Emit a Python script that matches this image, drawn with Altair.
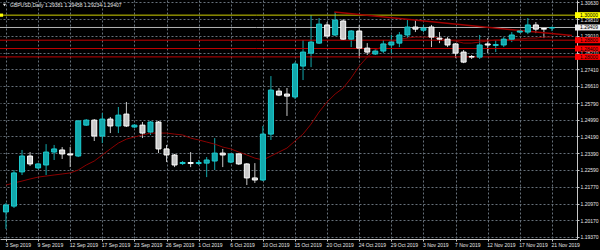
import altair as alt
import pandas as pd
import numpy as np

# ---------------- data ----------------
date_labels = ["3 Sep 2019", "9 Sep 2019", "12 Sep 2019", "17 Sep 2019", "23 Sep 2019",
               "26 Sep 2019", "1 Oct 2019", "6 Oct 2019", "10 Oct 2019", "15 Oct 2019",
               "20 Oct 2019", "24 Oct 2019", "29 Oct 2019", "3 Nov 2019", "7 Nov 2019",
               "12 Nov 2019", "17 Nov 2019", "21 Nov 2019"]
label_step = 4  # one date label every 4 bars

opens = [1.2057, 1.2085, 1.2249, 1.2325, 1.2268, 1.2282, 1.2344, 1.2354, 1.2335, 1.2325,
         1.2473, 1.2497, 1.2421, 1.2502, 1.2469, 1.2526, 1.2464, 1.2473, 1.2440, 1.2488,
         1.2359, 1.2330, 1.2289, 1.2294, 1.2289, 1.2291, 1.2301, 1.2339, 1.2296, 1.2335,
         1.2287, 1.2220, 1.2210, 1.2430, 1.2636, 1.2622, 1.2608, 1.2756, 1.2818, 1.2866,
         1.2953, 1.2905, 1.2972, 1.2885, 1.2924, 1.2842, 1.2814, 1.2828, 1.2857, 1.2866,
         1.2905, 1.2943, 1.2928, 1.2943, 1.2890, 1.2885, 1.2862, 1.2823, 1.2802, 1.2799,
         1.2862, 1.2855, 1.2857, 1.2885, 1.2919, 1.2919, 1.2953, 1.2936, 1.29381]
highs = [1.2100, 1.2258, 1.2354, 1.2344, 1.2291, 1.2382, 1.2378, 1.2368, 1.2368, 1.2497,
         1.2502, 1.2502, 1.2531, 1.2512, 1.2560, 1.2584, 1.2478, 1.2488, 1.2493, 1.2493,
         1.2378, 1.2335, 1.2301, 1.2344, 1.2306, 1.2320, 1.2411, 1.2359, 1.2339, 1.2339,
         1.2291, 1.2291, 1.2469, 1.2708, 1.2651, 1.2651, 1.2775, 1.2881, 1.3000, 1.2986,
         1.2967, 1.3015, 1.2981, 1.2928, 1.2953, 1.2866, 1.2838, 1.2881, 1.2905, 1.2919,
         1.2981, 1.2976, 1.2953, 1.2953, 1.2919, 1.2895, 1.2866, 1.2833, 1.2809, 1.2905,
         1.2890, 1.2881, 1.2895, 1.2919, 1.2928, 1.2986, 1.2967, 1.2938, 1.29458]
lows = [1.1975, 1.2076, 1.2234, 1.2277, 1.2263, 1.2234, 1.2306, 1.2311, 1.2272, 1.2320,
        1.2469, 1.2397, 1.2387, 1.2435, 1.2435, 1.2464, 1.2459, 1.2411, 1.2426, 1.2339,
        1.2296, 1.2272, 1.2282, 1.2272, 1.2282, 1.2224, 1.2258, 1.2272, 1.2291, 1.2282,
        1.2186, 1.2196, 1.2205, 1.2402, 1.2612, 1.2517, 1.2598, 1.2689, 1.2751, 1.2862,
        1.2890, 1.2900, 1.2881, 1.2847, 1.2794, 1.2809, 1.2809, 1.2818, 1.2818, 1.2847,
        1.2890, 1.2919, 1.2919, 1.2847, 1.2866, 1.2847, 1.2794, 1.2770, 1.2790, 1.2790,
        1.2818, 1.2823, 1.2847, 1.2871, 1.2914, 1.2909, 1.2914, 1.2890, 1.29234]
closes = [1.2090, 1.2244, 1.2325, 1.2287, 1.2287, 1.2344, 1.2359, 1.2335, 1.2330, 1.2493,
          1.2497, 1.2421, 1.2502, 1.2469, 1.2521, 1.2469, 1.2473, 1.2435, 1.2488, 1.2359,
          1.2330, 1.2282, 1.2294, 1.2289, 1.2294, 1.2306, 1.2339, 1.2330, 1.2335, 1.2287,
          1.2220, 1.2210, 1.2430, 1.2641, 1.2617, 1.2612, 1.2766, 1.2823, 1.2871, 1.2957,
          1.2900, 1.2976, 1.2885, 1.2924, 1.2842, 1.2823, 1.2828, 1.2862, 1.2871, 1.2905,
          1.2943, 1.2933, 1.2938, 1.2895, 1.2885, 1.2857, 1.2818, 1.2775, 1.2799, 1.2857,
          1.2857, 1.2859, 1.2885, 1.2905, 1.2924, 1.2953, 1.2933, 1.2933, 1.29407]
ma_values = [1.2186, 1.2196, 1.2205, 1.2215, 1.2224, 1.2229, 1.2234, 1.2239, 1.2244, 1.2258,
             1.2282, 1.2301, 1.2330, 1.2359, 1.2387, 1.2406, 1.2416, 1.2426, 1.2435, 1.2435,
             1.2435, 1.2430, 1.2426, 1.2411, 1.2402, 1.2392, 1.2382, 1.2368, 1.2359, 1.2344,
             1.2330, 1.2315, 1.2306, 1.2325, 1.2344, 1.2363, 1.2397, 1.2430, 1.2478, 1.2536,
             1.2584, 1.2622, 1.2651, 1.2699, 1.2756, 1.2799, 1.2833, 1.2852, 1.2871, 1.2885,
             1.2890, 1.2895, 1.2895, 1.2895, 1.2890, 1.2881, 1.2876, 1.2866, 1.2866, 1.2871,
             1.2876, 1.2881, 1.2881, 1.2885, 1.2885, 1.2890, 1.2890, 1.2895, 1.2895]

price_ticks = [1.19370, 1.20170, 1.20970, 1.21770, 1.22590, 1.23390, 1.24190, 1.24990,
               1.25790, 1.26610, 1.27410, 1.28210, 1.29010, 1.29810, 1.30630]

level_prices = [1.30000, 1.29409, 1.28800, 1.28400, 1.28000]
level_labels = ["1.30000", "1.29409", "1.28800", "1.28400", "1.28000"]
level_colors = ["#D0D000", "#B4B4B4", "#C00000", "#C00000", "#C00000"]
box_colors = ["#FFFF00", "#F0F0F0", "#FF0000", "#FF0000", "#FF0000"]

trend_bar = [40.9, 70.5]
trend_price = [1.3015, 1.2902]

header = "GBPUSD,Daily  1.29381 1.29458 1.29234 1.29407"

# ---------------- styling ----------------
BG = "#000000"
BULL = "#1CCCD0"
BEAR = "#FFFFFF"
BULL_WICK = "#12A8AC"
BEAR_WICK = "#C8C8C8"
GRID = "#66707A"
AXIS = "#C8C8C8"
TXT = "#E6E6E6"
FONT = "Liberation Sans"
FS = 5

df = pd.DataFrame({"k": list(range(len(opens))), "open": opens, "high": highs,
                   "low": lows, "close": closes, "ma": ma_values})
df["dir"] = np.where(df["close"] >= df["open"], "up", "down")

levels = pd.DataFrame({"price": level_prices, "label": level_labels,
                       "lc": level_colors, "bc": box_colors})
trend = pd.DataFrame({"k": trend_bar, "price": trend_price})

xscale = alt.Scale(domain=[-0.12, 70.5], nice=False, zero=False)
yscale = alt.Scale(domain=[1.19274, 1.30726], nice=False, zero=False)

label_expr = "[" + ",".join("'" + d + "'" for d in date_labels) + "][round(datum.value/" + str(label_step) + ")]"

xaxis = alt.Axis(values=list(range(0, len(date_labels) * label_step, label_step)),
                 labelExpr=label_expr, labelAlign="left", labelBaseline="top",
                 labelPadding=1, labelOffset=-1, labelFontSize=FS, labelFont=FONT, labelColor=TXT,
                 labelOverlap=False, labelBound=False, labelFlush=False,
                 tickSize=2, tickColor=AXIS, domainColor=AXIS, domainWidth=1,
                 grid=True, gridColor=GRID, gridDash=[2, 2], gridWidth=1, zindex=0,
                 title=None)
yaxis = alt.Axis(orient="right", values=price_ticks, format=".5f",
                 labelPadding=1, labelFontSize=FS, labelFont=FONT, labelColor=TXT,
                 labelOverlap=False, labelBound=False, labelFlush=False,
                 tickSize=2, tickColor=AXIS, domainColor=AXIS, domainWidth=1,
                 grid=True, gridColor=GRID, gridDash=[2, 2], gridWidth=1, zindex=0,
                 title=None)


def X(field):
    return alt.X(field, scale=xscale, axis=xaxis, title=None)


def Y(field):
    return alt.Y(field, scale=yscale, axis=yaxis, title=None)


dir_color = alt.Color("dir:N", scale=alt.Scale(domain=["up", "down"], range=[BULL, BEAR]), legend=None)
dir_wick = alt.Color("dir:N", scale=alt.Scale(domain=["up", "down"], range=[BULL_WICK, BEAR_WICK]), legend=None)

base = alt.Chart(df)

wicks = base.mark_rule(strokeWidth=1).encode(
    x=X("k:Q"), y=Y("low:Q"), y2="high:Q", color=dir_wick,
)

levels_rules = alt.Chart(levels).mark_rule(strokeWidth=1).encode(
    y=Y("price:Q"), color=alt.Color("lc:N", scale=None),
)

ma_line = base.mark_line(color="#8B0000", strokeWidth=1).encode(
    x=X("k:Q"), y=Y("ma:Q"),
)

bodies = base.mark_bar(width=5, strokeWidth=1).encode(
    x=X("k:Q"), y=Y("open:Q"), y2="close:Q",
    color=dir_color,
    stroke=alt.Stroke("dir:N", scale=alt.Scale(domain=["up", "down"], range=[BULL, BEAR]), legend=None),
)

trend_line = alt.Chart(trend).mark_line(color="#A00000", strokeWidth=1.5).encode(
    x=X("k:Q"), y=Y("price:Q"),
)

boxes = alt.Chart(levels).mark_point(
    shape="M-1,-0.24H1V0.24H-1Z", filled=True, size=625, opacity=1
).encode(
    x=alt.value(587.5), y=Y("price:Q"), color=alt.Color("bc:N", scale=None),
)

box_text = alt.Chart(levels).mark_text(
    align="left", baseline="middle", fontSize=FS, font=FONT, color="#000000"
).encode(
    x=alt.value(580), y=Y("price:Q"), text="label:N",
)

marker = alt.Chart(levels.iloc[:1]).mark_square(size=10, color="#FFFF00", opacity=1).encode(
    x=alt.value(1.5), y=Y("price:Q"),
)

head = alt.Chart(pd.DataFrame({"t": [header]})).mark_text(
    align="left", baseline="middle", fontSize=FS, font=FONT, color=TXT
).encode(x=alt.value(10), y=alt.value(5), text="t:N")

tri = alt.Chart(pd.DataFrame({"t": ["v"]})).mark_point(
    shape="triangle-down", filled=True, size=10, color=TXT, opacity=1
).encode(x=alt.value(4.5), y=alt.value(5))

chart = alt.layer(
    wicks, levels_rules, ma_line, trend_line, bodies, marker, boxes, box_text, head, tri
).properties(
    width=577, height=239,
    autosize=alt.AutoSizeParams(type="none"),
    padding={"left": 0, "top": 0, "right": 23, "bottom": 11},
    background=BG,
).configure_view(stroke=None)

chart.save("out.html", embed_options={"renderer": "svg", "actions": False})
